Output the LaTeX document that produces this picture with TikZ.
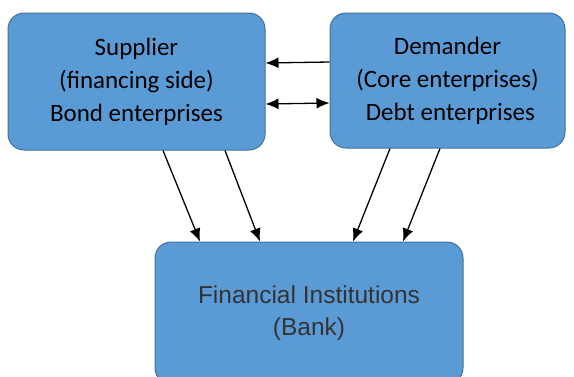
\documentclass[tikz,border=0pt]{standalone}
\usepackage{fontspec}
\setmainfont{Carlito}
\newfontfamily\arialfont{Liberation Sans}
\usetikzlibrary{positioning,arrows.meta}
\definecolor{boxblue}{HTML}{5B9BD5}
\definecolor{boxline}{HTML}{41719C}
\definecolor{banktext}{HTML}{333333}

\begin{document}
\begin{tikzpicture}[x=1pt,y=-1pt,
    party/.style={draw=boxline,fill=boxblue,rounded corners=16pt,line width=1pt,
      inner sep=0pt,align=center,font=\fontsize{25}{33}\selectfont},
    flow/.style={-{Latex[length=13pt,width=11pt]},line width=1.3pt}]
      \useasboundingbox (0,0) rectangle (574,376);
      % the two trading parties
      \node[party,minimum width=257pt,minimum height=137pt] (sup) at (136.5,81.5)
        {Supplier\\(financing side)\\Bond enterprises};
      \node[party,minimum width=235pt,minimum height=135pt] (dem) at (447.5,80.5)
        {Demander\\(Core enterprises)\\\ Debt enterprises};
      % the bank below, runs past the lower edge
      \node[party,minimum width=308pt,minimum height=142pt,
        font=\arialfont\fontsize{24.5}{32}\selectfont,text=banktext] (bank) at (309,313)
        {Financial Institutions\\(Bank)};
      % between the parties
      \draw[flow] ([yshift=18.5pt]dem.west) -- ([yshift=18.5pt]sup.east);
      \draw[flow,{Latex[length=13pt,width=11pt]}-{Latex[length=13pt,width=11pt]}]
        ([yshift=-22.5pt]sup.east) -- ([yshift=-22.5pt]dem.west);
      % down to the bank
      \draw[flow] ([xshift=26.5pt]sup.south) -- ([xshift=-109pt]bank.north);
      \draw[flow] ([xshift=88.5pt]sup.south) -- ([xshift=-49pt]bank.north);
      \draw[flow] ([xshift=-57.5pt]dem.south) -- ([xshift=44pt]bank.north);
      \draw[flow] ([xshift=-7.5pt]dem.south) -- ([xshift=94pt]bank.north);
  \end{tikzpicture}
\end{document}
